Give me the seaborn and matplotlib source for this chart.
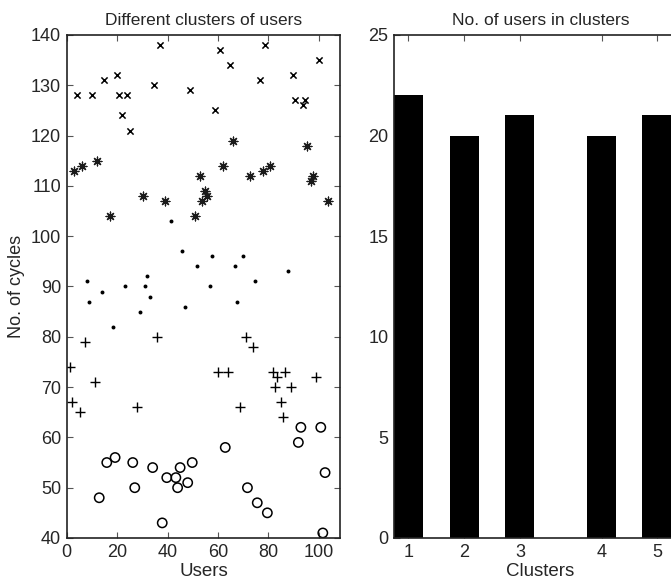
import matplotlib
matplotlib.use("Agg")
import matplotlib.pyplot as plt
import seaborn as sns
import pandas as pd

# cluster 1 (open circles)
c1_users = [12.9, 15.9, 19.2, 26.2, 27.0, 34.1, 37.9, 39.7, 43.3, 44.0, 45.0, 48.0,
            49.8, 62.9, 71.7, 75.6, 79.6, 91.9, 92.9, 100.8, 102.5, 101.6]
c1_cycles = [48, 55, 56, 55, 50, 54, 43, 52, 52, 50, 54, 51,
             55, 58, 50, 47, 45, 59, 62, 62, 53, 41]

# cluster 2 (plus)
c2_users = [1.3, 7.3, 11.2, 36.0, 59.9, 64.0, 71.0, 74.1, 82.0, 83.6, 86.6, 82.7,
            89.0, 98.9, 2.2, 5.3, 27.8, 68.8, 85.0, 86.0]
c2_cycles = [74, 79, 71, 80, 73, 73, 80, 78, 73, 72, 73, 70,
             70, 72, 67, 65, 66, 66, 67, 64]

# cluster 3 (dots)
c3_users = [8.2, 9.0, 14.1, 18.3, 23.0, 29.0, 31.0, 31.9, 32.9, 45.8, 46.9, 51.8,
            56.9, 57.8, 66.8, 67.7, 69.8, 74.7, 87.7, 41.4]
c3_cycles = [91, 87, 89, 82, 90, 85, 90, 92, 88, 97, 86, 94,
             90, 96, 94, 87, 96, 91, 93, 103]

# cluster 4 (asterisks)
c4_users = [3.0, 5.9, 12.2, 30.2, 39.0, 52.9, 53.8, 54.9, 55.8, 61.9, 65.9, 72.7,
            77.8, 80.7, 95.5, 96.8, 97.6, 103.8, 17.2, 50.9]
c4_cycles = [113, 114, 115, 108, 107, 112, 107, 109, 108, 114, 119, 112,
             113, 114, 118, 111, 112, 107, 104, 104]

# cluster 5 (crosses)
c5_users = [4.0, 10.2, 14.9, 20.1, 20.9, 24.0, 22.1, 25.0, 34.8, 37.1, 48.9, 59.0,
            60.8, 64.8, 76.7, 78.8, 89.7, 90.6, 94.4, 93.7, 99.9]
c5_cycles = [128, 128, 131, 132, 128, 128, 124, 121, 130, 138, 129, 125,
             137, 134, 131, 138, 132, 127, 127, 126, 135]

clusters = ["1", "2", "3", "4", "5"]
cluster_sizes = [22, 20, 21, 20, 21]
cluster_pos = [1, 2, 3, 4.47, 5.46]

sns.set_style("ticks")
plt.rcParams["font.family"] = ["Liberation Sans", "DejaVu Sans"]
plt.rcParams["xtick.direction"] = "in"
plt.rcParams["ytick.direction"] = "in"

fig = plt.figure(figsize=(6.71, 5.83), dpi=100)
ax1 = fig.add_axes([0.0994, 0.0772, 0.4076, 0.8628])
# right panel runs a little past the image edge, as in the original
ax2 = fig.add_axes([0.5872, 0.0772, 0.4366, 0.8628])

asterisk = (8, 2, 0)
sns.scatterplot(x=c1_users, y=c1_cycles, ax=ax1, marker="o", s=45,
                facecolors="none", edgecolor="black", linewidth=1.1)
sns.scatterplot(x=c2_users, y=c2_cycles, ax=ax1, marker="+", s=60,
                color="black", linewidth=1.0)
sns.scatterplot(x=c3_users, y=c3_cycles, ax=ax1, marker="o", s=8,
                color="black", linewidth=0)
sns.scatterplot(x=c4_users, y=c4_cycles, ax=ax1, marker=asterisk, s=40,
                color="#1a1a1a", linewidth=0.9)
sns.scatterplot(x=c5_users, y=c5_cycles, ax=ax1, marker="x", s=20,
                color="black", linewidth=1.1)

ax1.set_xlim(0, 108.5)
ax1.set_ylim(40, 140)
ax1.set_xticks([0, 20, 40, 60, 80, 100])
ax1.set_yticks(range(40, 141, 10))
ax1.set_title("Different clusters of users", fontsize=12.5, pad=7)
ax1.set_xlabel("Users", fontsize=13.5, labelpad=2)
ax1.set_ylabel("No. of cycles", fontsize=13, labelpad=4)

df = pd.DataFrame({"pos": cluster_pos, "size": cluster_sizes})
sns.barplot(data=df, x="pos", y="size", ax=ax2, native_scale=True,
            width=0.53, color="black", saturation=1, edgecolor="none")
ax2.set_xlim(0.74, 6.0)
ax2.set_ylim(0, 25)
ax2.set_xticks(cluster_pos)
ax2.set_xticklabels(clusters)
ax2.set_yticks(range(0, 26, 5))
ax2.set_title("No. of users in clusters", fontsize=12.5, pad=7)
ax2.set_xlabel("Clusters", fontsize=13.5, labelpad=2)
ax2.set_ylabel("")

for ax in (ax1, ax2):
    ax.tick_params(axis="both", which="both", top=True, right=True,
                   labelsize=13, length=4, width=0.8, color="#555555", pad=4)
    for sp in ax.spines.values():
        sp.set_visible(True)
        sp.set_linewidth(1.2)
        sp.set_color("#222222")

fig.savefig("out.png", dpi=100)
